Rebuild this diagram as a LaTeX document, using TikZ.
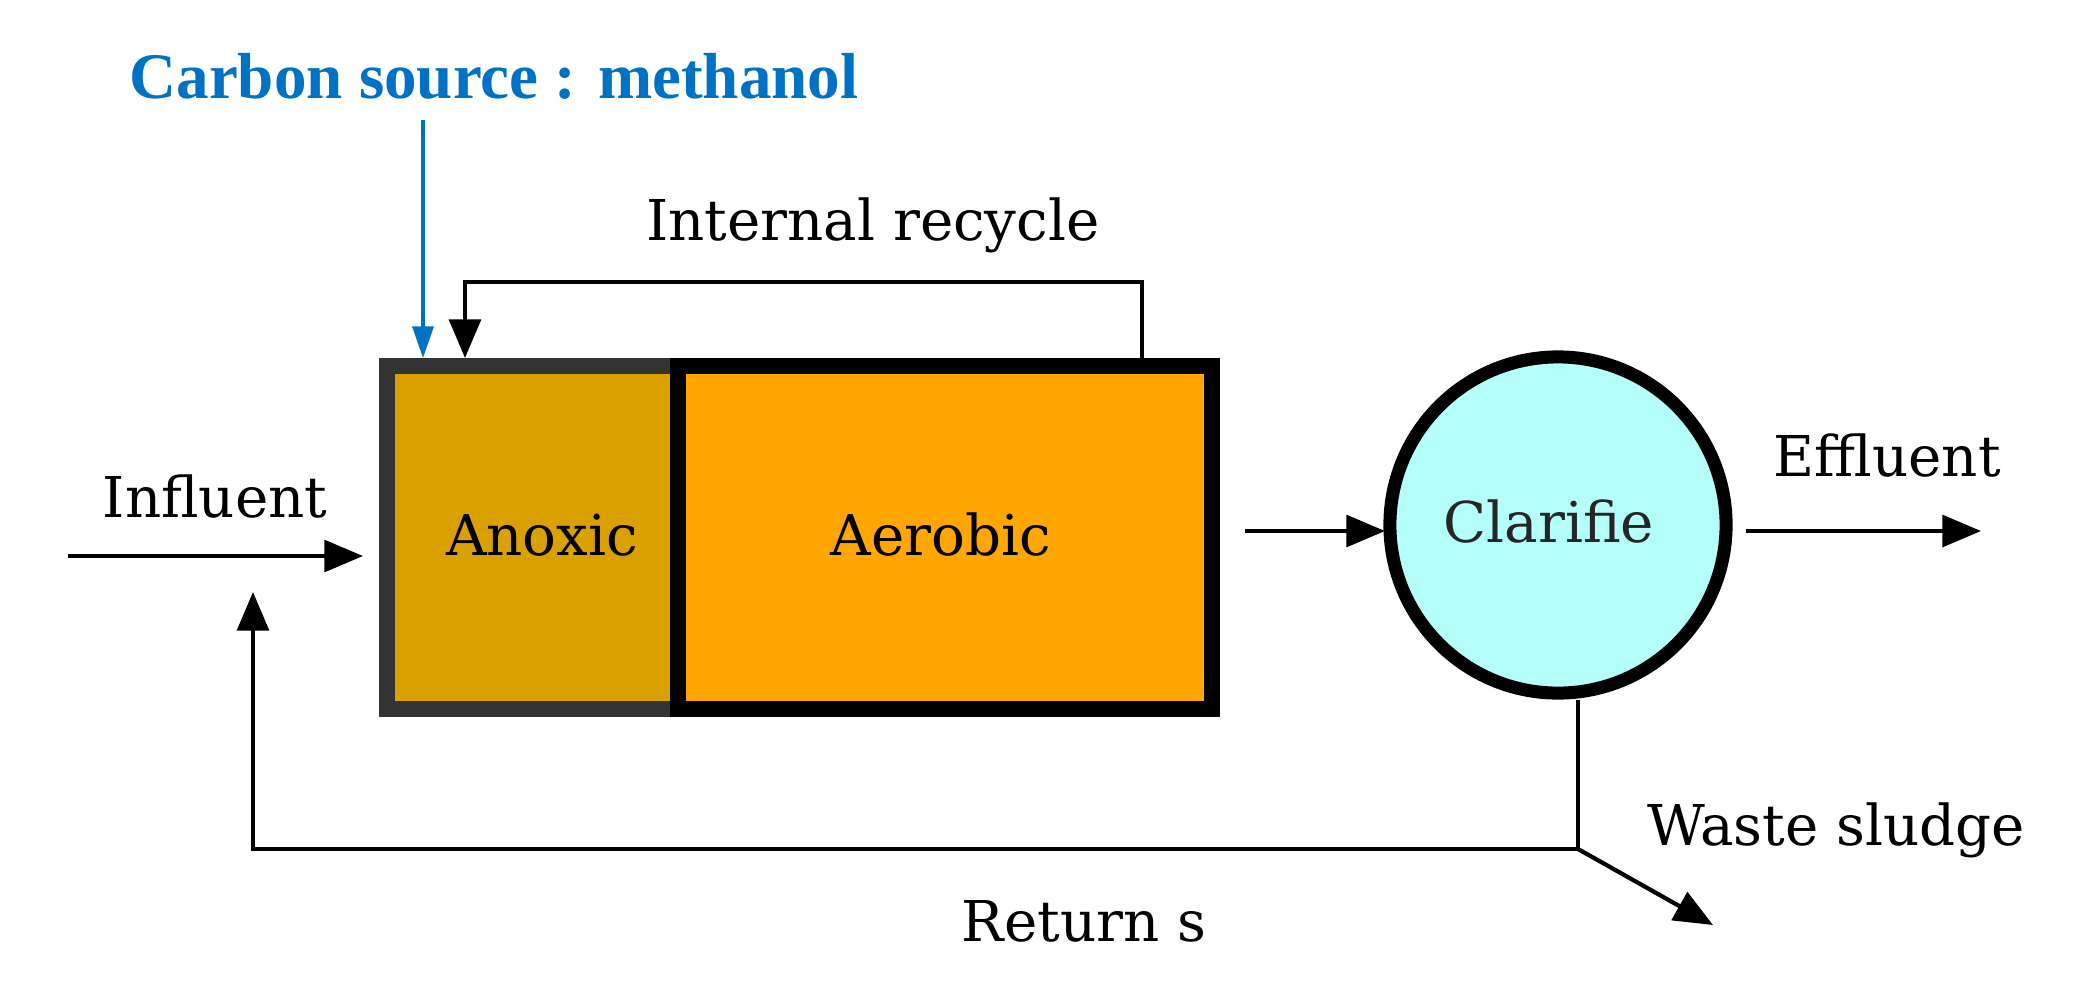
\documentclass[tikz,border=0pt]{standalone}
\usepackage{fontspec}
\setmainfont{DejaVu Serif}
\newfontfamily\boldser{Liberation Serif}
\usetikzlibrary{arrows.meta}
\definecolor{anox}{RGB}{218,160,0}
\definecolor{aero}{RGB}{255,166,0}
\definecolor{clar}{RGB}{180,255,250}
\definecolor{cblue}{RGB}{0,114,198}
\begin{document}
\begin{tikzpicture}[x=0.01cm,y=-0.01cm,
  lbl/.style={font=\fontsize{16}{18}\selectfont, inner sep=0pt},
  flow/.style={line width=1.2pt,-{Triangle[length=11pt,width=9pt]}},
  tank/.style={draw, line width=4.5pt, minimum height=3.43cm, inner sep=0pt}]
\useasboundingbox (0,0) rectangle (2084,993);
\node[tank, draw=black!80, fill=anox, minimum width=2.91cm] (anox) at (532.5,537.5) {};
\node[tank, fill=aero, minimum width=5.34cm] (aero) at (945,537.5) {};
\node[lbl] (anoxt) at (542,535) {Anoxic};
\node[lbl] (aerot) at (941,535) {Aerobic};
\node[circle, draw, line width=3.7pt, fill=clar, minimum size=3.36cm, inner sep=0pt] (clr) at (1558,525) {};
\node[lbl, text=black!85] (clrt) at (1549,522) {Clarifie};
\node[inner sep=0pt, text=cblue, font=\boldser\bfseries\fontsize{18.5}{20}\selectfont] (carb) at (494,76) {Carbon source : methanol};
\node[lbl] (intr) at (873,225) {Internal recycle};
\node[lbl] (infl) at (215,497) {Influent};
\node[lbl] (effl) at (1887,456) {Effluent};
\node[lbl] (wast) at (1836,830) {Waste sludge};
\node[lbl] (ret) at (1084,921) {Return s};
\coordinate (cs1) at (423,120); \coordinate (cs2) at (423,358);
\coordinate (ir1) at (1142,366); \coordinate (ir2) at (465,282); \coordinate (ir3) at (465,358);
\coordinate (in1) at (68,556); \coordinate (in2) at (363,556);
\coordinate (c1) at (1245,531); \coordinate (c2) at (1385,531);
\coordinate (e1) at (1746,531); \coordinate (e2) at (1981,531);
\coordinate (w1) at (1578,700); \coordinate (w2) at (1578,849);
\coordinate (r1) at (253,849); \coordinate (r2) at (253,592);
\coordinate (w3) at (1713,925);
\draw[cblue, line width=0.9pt, -{Triangle[length=9pt,width=6pt]}] (cs1) -- (cs2);
\draw[flow] (ir1) |- (ir2) -- (ir3);
\draw[flow] (in1) -- (in2);
\draw[flow] (c1) -- (c2);
\draw[flow] (e1) -- (e2);
\draw[flow] (w1) -- (w2) -- (r1) -- (r2);
\draw[flow] (w2) -- (w3);
\end{tikzpicture}
\end{document}
